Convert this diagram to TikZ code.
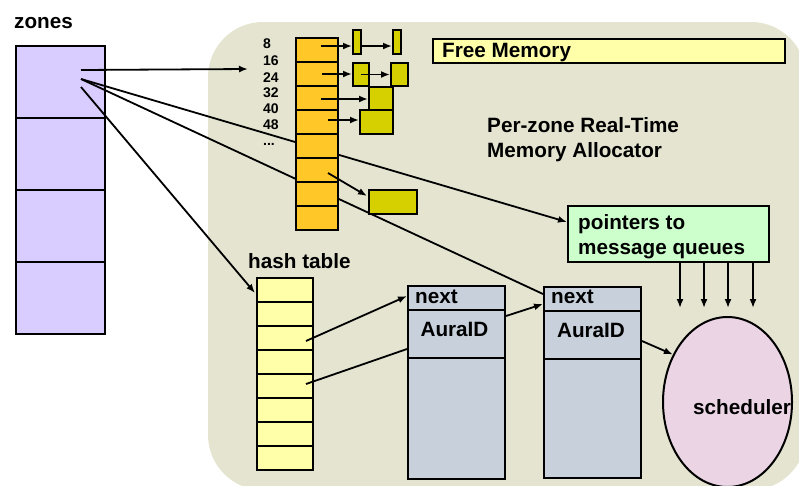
\documentclass[tikz,border=0pt]{standalone}
\usepackage{fontspec}
\setmainfont{Liberation Sans}
\usetikzlibrary{arrows.meta,calc,shapes.geometric}

\definecolor{panelbeige}{RGB}{228,228,208}
\definecolor{zonepurple}{RGB}{217,204,255}
\definecolor{slotorange}{RGB}{255,200,40}
\definecolor{blockolive}{RGB}{214,208,0}
\definecolor{paleyellow}{RGB}{255,255,170}
\definecolor{palegreen}{RGB}{204,255,204}
\definecolor{recordgray}{RGB}{200,208,220}
\definecolor{schedpink}{RGB}{235,213,228}

\pgfdeclarelayer{back}
\pgfdeclarelayer{mid}
\pgfsetlayers{back,mid,main}

\begin{document}
\begin{tikzpicture}[x=1pt,y=-1pt,
  cell/.style={draw,line width=2pt,inner sep=0pt,anchor=north west},
  lbl/.style={font=\fontsize{20.7}{25}\selectfont\bfseries,inner sep=0pt,anchor=base west,align=left},
  small/.style={font=\fontsize{14}{16}\selectfont\bfseries,inner sep=0pt,anchor=base west},
  link/.style={line width=1.8pt},
  arr/.style={line width=1.8pt,-{Latex[length=9pt,width=7pt]}}]

\useasboundingbox (0,0) rectangle (799,485);
\clip (0,0) rectangle (799,485);

% --- panel and zone table (bottom layer) ---
\begin{pgfonlayer}{back}
  \fill[panelbeige,rounded corners=55pt] (208,22) rectangle (806,490);
  \foreach \i in {1,...,4}
    \node[cell,fill=zonepurple,minimum width=89pt,minimum height=72pt]
      (z\i) at (15,{45+72*(\i-1)}) {};
\end{pgfonlayer}
\node[lbl] (zoneslbl) at (14,28) {zones};

% --- size-class slot column ---
\foreach \i in {1,...,8}
  \node[cell,fill=slotorange,minimum width=42pt,minimum height=24pt]
    (f\i) at (295,{37+24*(\i-1)}) {};

\node[small] (s8)  at (263,48)  {8};
\node[small] (s16) at (263,65)  {16};
\node[small] (s24) at (263,82)  {24};
\node[small] (s32) at (263,97)  {32};
\node[small] (s40) at (263,113) {40};
\node[small] (s48) at (263,129) {48};
\node[small] (sdots) at (263,145) {...};

% free blocks hanging off the slots
\node[cell,fill=blockolive,minimum width=8pt,minimum height=24pt]  (b1a) at (352,29) {};
\node[cell,fill=blockolive,minimum width=8pt,minimum height=24pt]  (b1b) at (392,29) {};
\node[cell,fill=blockolive,minimum width=16pt,minimum height=23pt] (b2a) at (352,62) {};
\node[cell,fill=blockolive,minimum width=17pt,minimum height=23pt] (b2b) at (390,62) {};
\node[cell,fill=blockolive,minimum width=24pt,minimum height=24pt] (b3)  at (368,86) {};
\node[cell,fill=blockolive,minimum width=33pt,minimum height=24pt] (b4)  at (359,109) {};
\node[cell,fill=blockolive,minimum width=48pt,minimum height=24pt] (b5)  at (368,189) {};

% --- free memory bar and title ---
\node[cell,fill=paleyellow,minimum width=352pt,minimum height=24pt] (free) at (432,38) {};
\node[lbl] (freelbl) at (442,57) {Free Memory};
\node[lbl] (title) at (487,157) {Per-zone Real-Time\\Memory Allocator};

% --- message queue pointers ---
\node[cell,fill=palegreen,minimum width=201pt,minimum height=56pt] (ptr) at (567,205) {};
\node[lbl] (ptrlbl) at (578,254) {pointers to\\message queues};

% --- hash table ---
\node[lbl] (hashlbl) at (248,268) {hash table};
\foreach \i in {1,...,8}
  \node[cell,fill=paleyellow,minimum width=56pt,minimum height=24pt]
    (h\i) at (256,{277+24*(\i-1)}) {};

% --- aura records ---
\node[cell,fill=recordgray,minimum width=97pt,minimum height=24pt]  (next1) at (407,285) {};
\node[cell,fill=recordgray,minimum width=97pt,minimum height=48pt]  (aura1) at (407,309) {};
\node[cell,fill=recordgray,minimum width=97pt,minimum height=121pt] (body1) at (407,357) {};
\node[cell,fill=recordgray,minimum width=97pt,minimum height=24pt]  (next2) at (543,286) {};
\node[cell,fill=recordgray,minimum width=97pt,minimum height=48pt]  (aura2) at (543,310) {};
\node[cell,fill=recordgray,minimum width=97pt,minimum height=119pt] (body2) at (543,358) {};
\node[lbl] (next1lbl) at (415,303) {next};
\node[lbl,anchor=base] (aura1lbl) at (454.5,336) {AuraID};
\node[lbl] (next2lbl) at (551,303) {next};
\node[lbl,anchor=base] (aura2lbl) at (591,337) {AuraID};

% --- scheduler ---
\node[ellipse,draw,line width=2pt,fill=schedpink,inner sep=0pt,
      minimum width=129pt,minimum height=170pt] (sched) at (727.5,402) {};
\node[lbl] (schedlbl) at (693,414) {scheduler};

% --- connectors from the zone table (behind the tables) ---
\coordinate (slotend) at (248,69);
\begin{pgfonlayer}{mid}
  \draw[arr]  ($(z1.center)+(20.5,-12)$) -- (slotend);
  \draw[arr]  ($(z1.center)+(20.5,-3)$)  -- ($(ptr.west)+(0,-12)$);
  \draw[link] ($(z1.center)+(20.5,-3)$)  -- ($(next2.west)+(0,-5)$);
  \draw[arr]  ($(z1.center)+(20.5,5)$)   -- ($(h1.west)+(-1,3)$);
\end{pgfonlayer}

% --- free lists ---
\coordinate (r1) at ($(f1.center)+(4,-4)$);
\draw[arr] (r1) -- (r1 -| b1a.west);
\draw[arr] (b1a.east |- r1) -- (r1 -| b1b.west);
\coordinate (r2) at ($(f2.center)+(5,0)$);
\draw[arr] (r2) -- (r2 -| b2a.west);
\draw[arr] (b2a.center) -- (b2a.center -| b2b.west);
\draw[arr] ($(f3.center)+(4,1)$) -- (b3.west);
\coordinate (r4) at ($(f4.center)+(11,-2)$);
\draw[arr] (r4) -- (r4 -| b4.west);
\draw[arr] ($(f6.center)+(11,3)$) -- ($(b5.west)+(-1,-6)$);

% --- hash chains ---
\draw[arr]  ($(h3.center)+(21,3)$)  -- ($(next1.west)+(0,-2)$);
\draw[link] ($(h5.center)+(21,-2)$) -- ($(aura1.west)+(0,15)$);
\draw[arr]  ($(aura1.east)+(0,-18)$) -- ($(next2.west)+(0,5)$);
\draw[arr]  ($(aura2.east)+(0,6)$) -- (sched.139);

% --- queue pointers down to the scheduler ---
\foreach \x [count=\k] in {680,704,728,753} {
  \coordinate (q\k) at (\x,308);
  \draw[arr] (ptr.south -| q\k) -- (q\k);
}
\end{tikzpicture}
\end{document}
